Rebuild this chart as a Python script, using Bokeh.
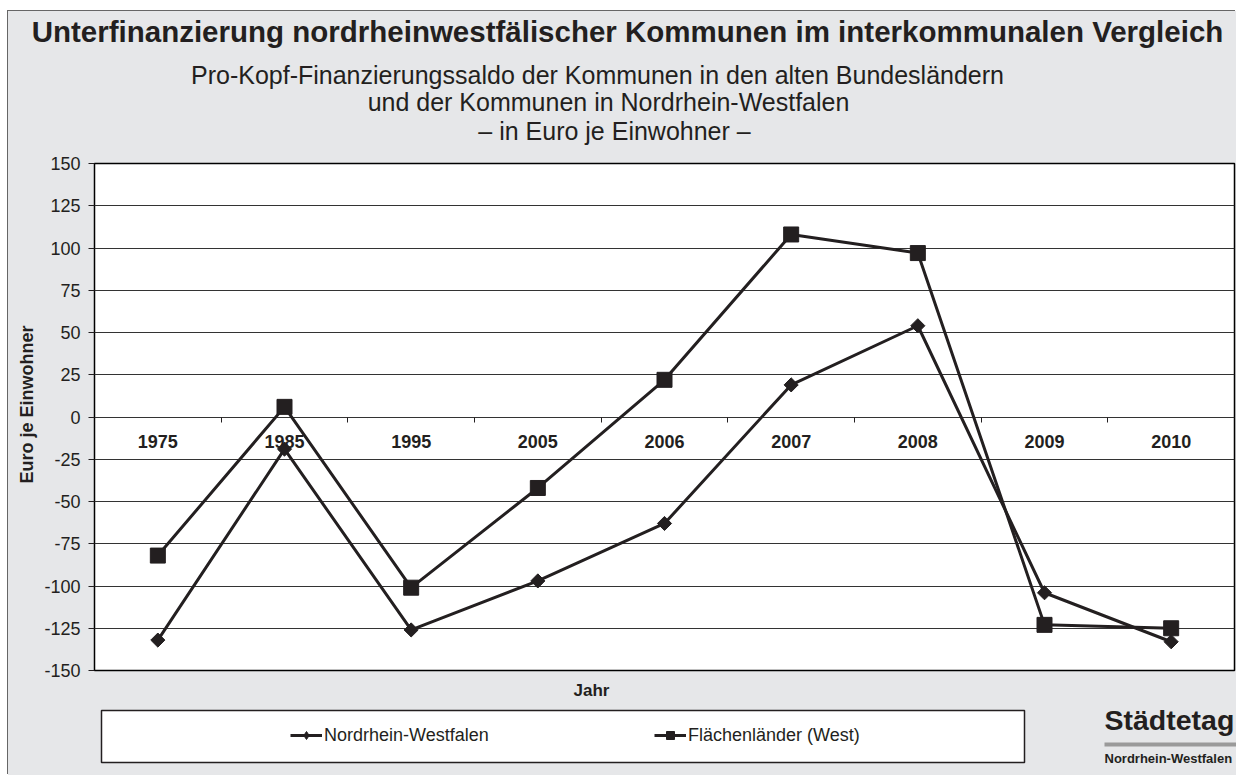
import math
from bokeh.plotting import figure
from bokeh.layouts import column
from bokeh.models import (Range1d, FixedTicker, Label, Legend, LegendItem, Plot,
                          ColumnDataSource, Title)
from bokeh.core.properties import value
from bokeh.embed import file_html
from bokeh.resources import INLINE

# ---- data ----
years = ["1975", "1985", "1995", "2005", "2006", "2007", "2008", "2009", "2010"]
nrw = [-132, -19, -126, -97, -63, 19, 54, -104, -133]
west = [-82, 6, -101, -42, 22, 108, 97, -123, -125]
yticks = [-150, -125, -100, -75, -50, -25, 0, 25, 50, 75, 100, 125, 150]

title = "Unterfinanzierung nordrheinwestfälischer Kommunen im interkommunalen Vergleich"
sub1 = "Pro-Kopf-Finanzierungssaldo der Kommunen in den alten Bundesländern"
sub2 = "und der Kommunen in Nordrhein-Westfalen"
sub3 = "– in Euro je Einwohner –"
ylabel = "Euro je Einwohner"
xlabel = "Jahr"
series_names = ["Nordrhein-Westfalen", "Flächenländer (West)"]
logo_big = "Städtetag"
logo_small = "Nordrhein-Westfalen"

FONT = "Liberation Sans"
BG = "#e6e7e9"
INK = "#231f20"

W = 1228          # width of the grey panel
X0, Y0 = 8, 11    # panel origin on the page
HEAD_B = 151      # page y where header ends
MAIN_B = 681      # page y where main chart ends
PAGE_B = 775

NOALIGN = {"frame_align": False} if "frame_align" in Plot.properties() else {}

def blank(height, ytop, ybot):
    f = figure(width=W, height=height, x_range=Range1d(X0, X0 + W), y_range=Range1d(ybot, ytop),
               x_axis_type=None, y_axis_type=None, output_backend="svg", toolbar_location=None,
               min_border=0, min_border_left=0, min_border_right=0, min_border_top=0,
               min_border_bottom=0, outline_line_color=None,
               background_fill_color=BG, border_fill_color=BG, **NOALIGN)
    f.grid.visible = False
    return f

def lab(f, text, x, y, size, bold=False, align="center", baseline="middle", angle=0):
    f.add_layout(Label(x=x, y=y, text=text, text_align=align, text_baseline=baseline,
                       angle=angle, text_font=FONT, text_font_size=size,
                       text_font_style="bold" if bold else "normal", text_color=INK))

# ---------------- header ----------------
head = blank(HEAD_B - Y0, Y0, HEAD_B)
lab(head, title, 627, 31, "29.5px", bold=True)
lab(head, sub1, 597, 74, "25px")
lab(head, sub2, 608, 101, "25px")
lab(head, sub3, 614, 130, "25px")

# ---------------- main chart ----------------
n = len(years)
xs = [i + 0.5 for i in range(n)]
src = ColumnDataSource(dict(x=xs, year=years, nrw=nrw, west=west, zero=[0] * n))

p = figure(frame_width=1140, frame_height=507, x_range=Range1d(0, n), y_range=Range1d(-150, 150),
           x_axis_location="above",
           output_backend="svg", toolbar_location=None,
           min_border_left=86, min_border_right=2, min_border_top=12, min_border_bottom=11,
           background_fill_color="white", border_fill_color=BG,
           outline_line_color="black", outline_line_width=1.5, **NOALIGN)

p.yaxis.ticker = FixedTicker(ticks=yticks)
p.yaxis.major_label_overrides = {t: str(t) for t in yticks}
p.yaxis.major_tick_out = 6
p.yaxis.major_tick_in = 0
p.yaxis.minor_tick_line_color = None
p.yaxis.axis_line_color = None
p.yaxis.major_tick_line_color = INK
p.yaxis.major_label_text_font = FONT
p.yaxis.major_label_text_font_size = "18px"
p.yaxis.major_label_text_color = INK
p.yaxis.major_label_standoff = 8

# x axis drawn on the zero line, ticks between the categories
p.xaxis.fixed_location = 0
p.xaxis.ticker = FixedTicker(ticks=list(range(1, n)))
p.xaxis.major_tick_out = 0
p.xaxis.major_tick_in = 5
p.xaxis.minor_tick_line_color = None
p.xaxis.axis_line_color = None
p.xaxis.major_tick_line_color = INK
p.xaxis.major_label_text_alpha = 0
p.xaxis.major_label_text_font_size = "1px"
p.xaxis.major_label_standoff = 0

p.ygrid.ticker = FixedTicker(ticks=yticks)
p.ygrid.grid_line_color = "#333333"
p.ygrid.grid_line_width = 1
p.xgrid.visible = False

p.add_layout(Title(text=ylabel, align="left", offset=187, standoff=10,
                   text_font=FONT, text_font_size="18px", text_font_style="bold",
                   text_color=INK), "left")

p.text(x="x", y="zero", text="year", source=src, y_offset=24,
       text_align="center", text_baseline="middle", text_font=value(FONT),
       text_font_style="bold", text_font_size="18px", text_color=INK)

p.line("x", "west", source=src, line_color=INK, line_width=3)
p.scatter("x", "west", source=src, marker="square", size=15, color=INK)
p.line("x", "nrw", source=src, line_color=INK, line_width=3)
p.scatter("x", "nrw", source=src, marker="square", angle=math.pi / 4, size=10, color=INK)

# ---------------- bottom strip: axis title, legend, logo ----------------
strip = blank(PAGE_B - MAIN_B, MAIN_B, PAGE_B)
lab(strip, xlabel, 591, 690, "17px", bold=True)

strip.quad(left=[101], right=[1024], top=[710], bottom=[762],
           fill_color="white", line_color=INK, line_width=1.5)

# legend samples: the series themselves, which lie outside this strip's ranges
e1l = strip.line("x", "nrw", source=src, line_color=INK, line_width=3)
e1s = strip.scatter("x", "nrw", source=src, marker="diamond", size=11, color=INK)
e2l = strip.line("x", "west", source=src, line_color=INK, line_width=3)
e2s = strip.scatter("x", "west", source=src, marker="square", size=9, color=INK)

legend = Legend(items=[LegendItem(label=series_names[0], renderers=[e1l, e1s]),
                       LegendItem(label=series_names[1], renderers=[e2l, e2s])],
                orientation="horizontal", location=(290 - X0, PAGE_B - 745.5),
                padding=0, margin=0, spacing=10, glyph_width=32, glyph_height=20,
                label_standoff=2, label_width=320, label_height=20,
                label_text_font=FONT, label_text_font_size="18px", label_text_color=INK,
                border_line_color=None, background_fill_alpha=0)
strip.add_layout(legend)

lab(strip, logo_big, 1104, 719, "28.5px", bold=True, align="left", baseline="middle")
strip.quad(left=[1104], right=[1236], top=[742], bottom=[746], fill_color="#9a9a9a", line_color=None)
lab(strip, logo_small, 1104, 758, "13px", bold=True, align="left", baseline="middle")

layout = column(head, p, strip, spacing=0,
                styles={"margin-left": f"{X0}px", "margin-top": f"{Y0}px",
                        "background-color": BG,
                        "box-shadow": "-1px -1px 0 #666666"})

open("out.html", "w").write(file_html(layout, INLINE))
